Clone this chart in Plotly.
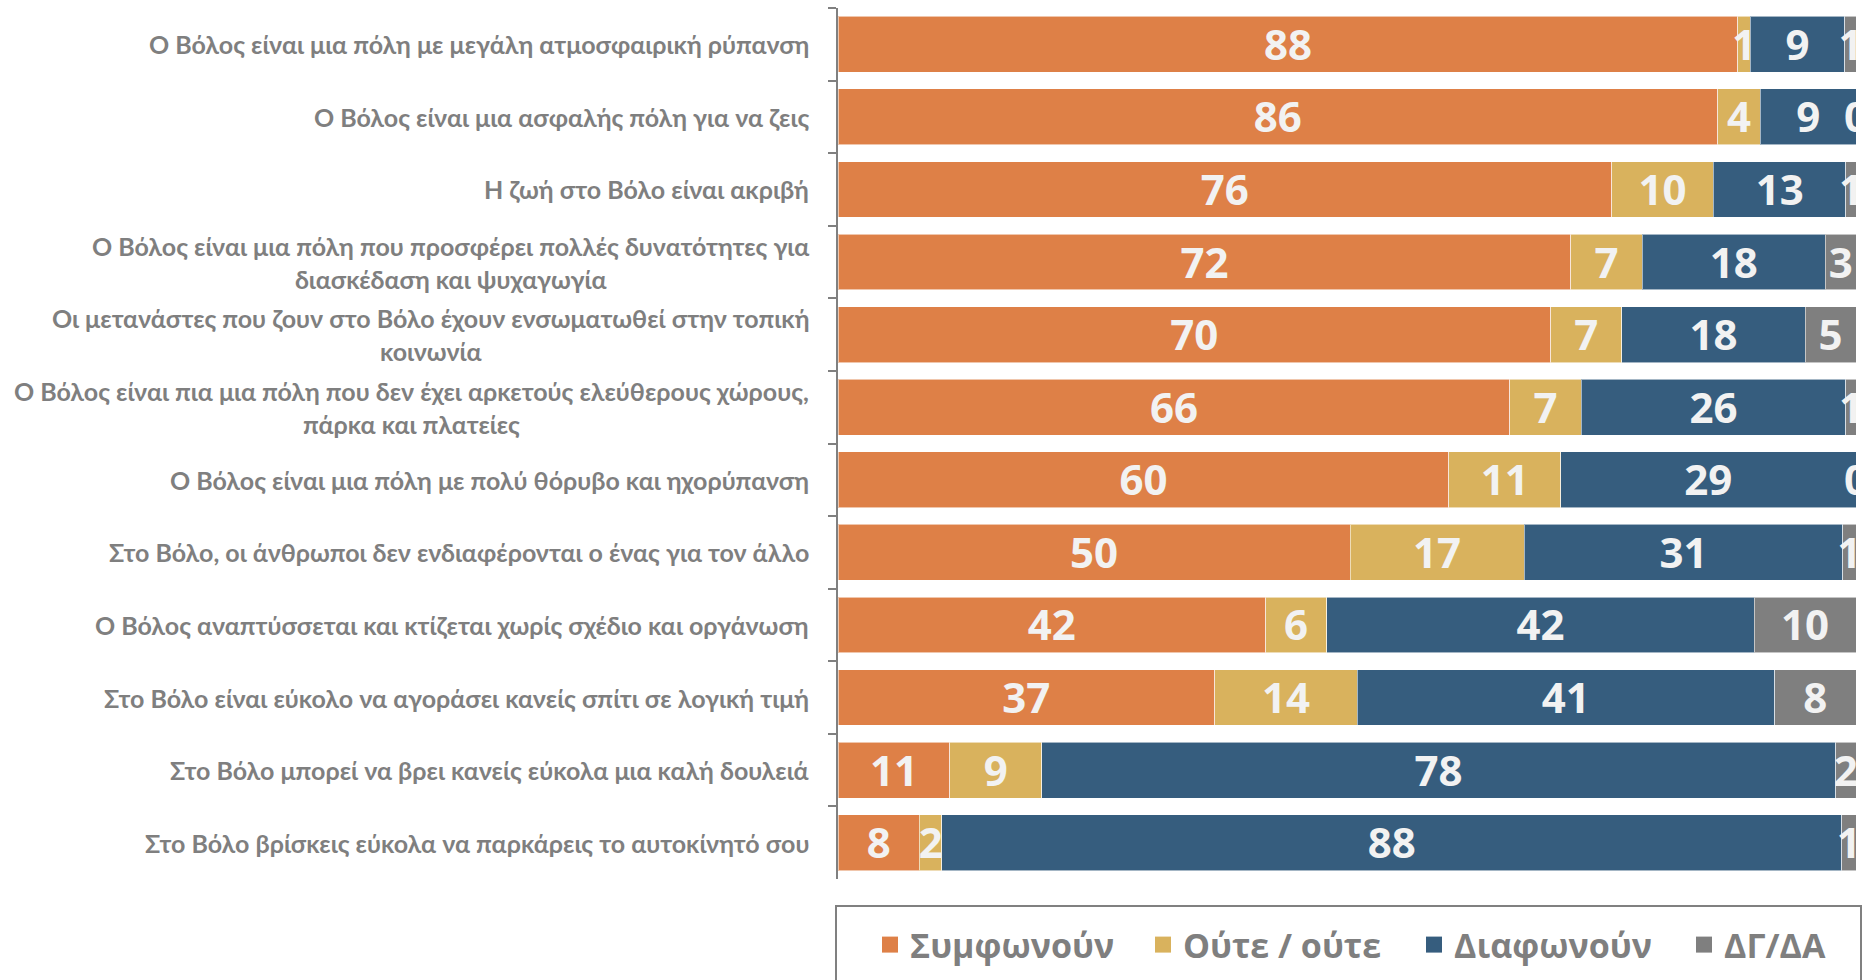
import plotly.graph_objects as go

categories = [
    "Ο Βόλος είναι μια πόλη με μεγάλη ατμοσφαιρική ρύπανση",
    "Ο Βόλος είναι μια ασφαλής πόλη για να ζεις",
    "Η ζωή στο Βόλο είναι ακριβή",
    "Ο Βόλος είναι μια πόλη που προσφέρει πολλές δυνατότητες για<br>διασκέδαση και ψυχαγωγία",
    "Οι μετανάστες που ζουν στο Βόλο έχουν ενσωματωθεί στην τοπική<br>κοινωνία",
    "Ο Βόλος είναι πια μια πόλη που δεν έχει αρκετούς ελεύθερους χώρους,<br>πάρκα και πλατείες",
    "Ο Βόλος είναι μια πόλη με πολύ θόρυβο και ηχορύπανση",
    "Στο Βόλο, οι άνθρωποι δεν ενδιαφέρονται ο ένας για τον άλλο",
    "Ο Βόλος αναπτύσσεται και κτίζεται χωρίς σχέδιο και οργάνωση",
    "Στο Βόλο είναι εύκολο να αγοράσει κανείς σπίτι σε λογική τιμή",
    "Στο Βόλο μπορεί να βρει κανείς εύκολα μια καλή δουλειά",
    "Στο Βόλο βρίσκεις εύκολα να παρκάρεις το αυτοκίνητό σου",
]

agree = [88.4, 86.4, 76, 72, 70, 66, 60, 50.3, 42, 37, 11, 8.0]
neither = [1.2, 4.2, 10, 7, 7, 7, 11, 17.1, 6, 14, 9, 2.2]
disagree = [9.3, 9.4, 13, 18, 18, 26, 29, 31.3, 42, 41, 78, 88.4]
dkna = [1.1, 0.0, 1, 3, 5, 1, 0, 1.3, 10, 8, 2, 1.4]

series_names = ["Συμφωνούν", "Ούτε / ούτε", "Διαφωνούν", "ΔΓ/ΔΑ"]
series_values = [agree, neither, disagree, dkna]
colors = ["#DE8047", "#D9B25D", "#365D7E", "#7F7F7F"]

W, H = 1864, 980
ML, MR, MT, MB = 838, 8, 8, H - 879

fig = go.Figure()

# bars
for name, vals, col in zip(series_names, series_values, colors):
    fig.add_trace(go.Bar(
        x=vals, y=categories, orientation="h", name=name,
        marker=dict(color=col, line=dict(color="rgba(255,255,255,0.55)", width=1)),
        showlegend=False, hoverinfo="skip",
    ))

# data labels at segment centres (on an overlaid axis nudged to optically centre the digits)
left = [0.0] * len(categories)
for vals in series_values:
    centers = [l + v / 2 for l, v in zip(left, vals)]
    fig.add_trace(go.Scatter(
        x=centers, y=categories, mode="text", yaxis="y2",
        text=[f"{round(v):d}" for v in vals],
        textfont=dict(family="Open Sans", size=42, color="#F2F2F2", weight="bold"),
        textposition="middle center", cliponaxis=True,
        showlegend=False, hoverinfo="skip",
    ))
    left = [l + v for l, v in zip(left, vals)]

# legend proxies, one legend per entry so positions match
legend_names = ["legend", "legend2", "legend3", "legend4"]
square_centers = [889, 1162, 1433, 1703]
for name, col, lg in zip(series_names, colors, legend_names):
    fig.add_trace(go.Scatter(
        x=[None], y=[None], mode="markers", name=name, legend=lg,
        marker=dict(symbol="square", size=16, color=col),
    ))

legend_style = dict(
    orientation="h", xref="container", yref="container",
    xanchor="left", yanchor="middle", y=1 - 945 / H,
    font=dict(family="Open Sans", size=34, color="#7F7F7F", weight="bold"),
    itemsizing="trace", bgcolor="rgba(0,0,0,0)", borderwidth=0,
)
legend_layout = {}
for lg, cx in zip(legend_names, square_centers):
    d = dict(legend_style)
    d["x"] = (cx - 19) / W
    legend_layout[lg] = d

# category labels (centered multi-line, right aligned block)
for cat in categories:
    fig.add_annotation(
        x=0, xref="paper", y=cat, yref="y", xanchor="right", xshift=-27,
        text=cat, showarrow=False, align="center",
        font=dict(family="Liberation Sans Narrow, Lato, sans-serif", size=25,
                  color="#7F7F7F", weight="bold"),
    )

# legend frame
ph = H - MT - MB
pw = W - ML - MR
fig.add_shape(
    type="rect", xref="paper", yref="paper",
    x0=(836 - ML) / pw, x1=(1861 - ML) / pw,
    y0=((H - MB) - 990) / ph, y1=((H - MB) - 906) / ph,
    line=dict(color="#808080", width=2), fillcolor="rgba(0,0,0,0)",
)

n = len(categories)
nudge = 5 / (ph / n)  # ~5 px expressed in category units
fig.update_layout(
    width=W, height=H,
    margin=dict(l=ML, r=MR, t=MT, b=MB, pad=0, autoexpand=False),
    barmode="stack", bargap=0.23,
    plot_bgcolor="white", paper_bgcolor="white",
    xaxis=dict(range=[0, 100], showgrid=False, zeroline=False,
               showticklabels=False, showline=False, fixedrange=True),
    yaxis=dict(range=[n - 0.5, -0.5], type="category", categoryarray=categories,
               showgrid=False, zeroline=False,
               showticklabels=False, showline=True, linecolor="#808080",
               linewidth=2, ticks="outside", tickson="boundaries",
               ticklen=8, tickwidth=2, tickcolor="#808080"),
    yaxis2=dict(range=[n - 0.5 - nudge, -0.5 - nudge], type="category",
                categoryarray=categories, overlaying="y", visible=False,
                showgrid=False, zeroline=False),
    **legend_layout,
)

fig.write_html(
    "out.html",
    config={"displayModeBar": False},
    post_script="document.body.style.margin='0px';document.body.style.overflow='hidden';",
)
